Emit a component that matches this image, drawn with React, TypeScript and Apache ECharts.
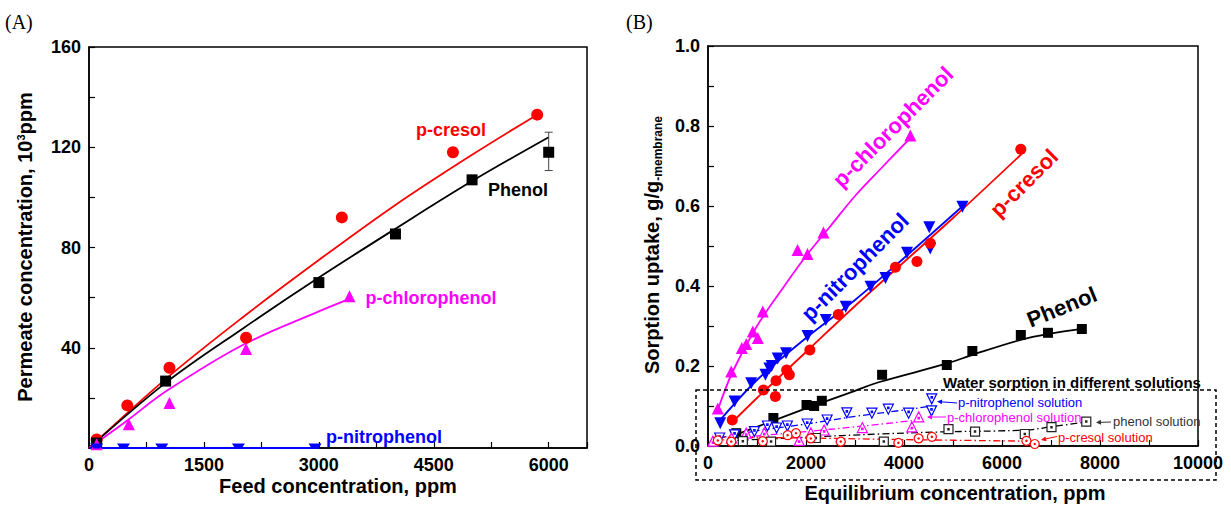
import React, { useEffect, useRef } from 'react';
import * as echarts from 'echarts';

const FONT = '"Liberation Sans", Arial, sans-serif';
const SERIF = '"Liberation Serif", "Times New Roman", serif';
const RED = '#ff0000';
const BLUE = '#0000ff';
const MAG = '#ff00ff';
const BLK = '#000000';

// ---------- Panel A: permeate vs feed concentration ----------
const aPhenol = [[100, 2], [1000, 26.7], [3000, 66], [4000, 85.4], [5000, 107], [6000, 118]];
const aCresol = [[100, 3.4], [500, 17], [1050, 32], [2050, 44], [3300, 92], [4750, 118], [5850, 133]];
const aChloro = [[100, 1.5], [520, 9.5], [1050, 18], [2050, 39.5], [3400, 60.5]];
const aNitro = [[100, 0], [450, 0], [950, 0], [1950, 0], [2950, 0]];
const aPhenolErr = [[6000, 110.7, 126]];

const aCresolFit = [[0, 0], [1000, 27.5], [2000, 52], [3000, 75], [4000, 97], [5000, 117], [5850, 133]];
const aPhenolFit = [[0, 0], [1000, 26], [2000, 47.5], [3000, 68], [4000, 87.5], [5000, 106.5], [6000, 124]];
const aChloroFit = [[0, 0], [500, 11], [1000, 22.5], [2000, 41], [3000, 54.5], [3400, 59.5]];
const aNitroFit = [[0, 0], [3000, 0]];

// ---------- Panel B: sorption uptake vs equilibrium concentration ----------
const bChloro = [[200, 0.094], [475, 0.186], [690, 0.245], [780, 0.255], [914, 0.286], [1016, 0.27], [1117, 0.336], [1828, 0.49], [2030, 0.48], [2356, 0.534], [4130, 0.776]];
const bNitro = [[250, 0.057], [542, 0.111], [881, 0.157], [1172, 0.178], [1253, 0.194], [1300, 0.2], [1422, 0.219], [1592, 0.232], [2031, 0.275], [2404, 0.315], [2810, 0.348], [3318, 0.398], [3622, 0.42], [4061, 0.483], [4516, 0.547], [4536, 0.494], [5192, 0.598]];
const bCresol = [[495, 0.065], [1131, 0.14], [1375, 0.124], [1388, 0.163], [1605, 0.19], [1660, 0.178], [2079, 0.24], [2660, 0.329], [3825, 0.447], [4264, 0.461], [4536, 0.507], [6384, 0.742]];
const bPhenol = [[577, 0.032], [1334, 0.07], [2011, 0.1025], [2166, 0.1], [2323, 0.113], [3553, 0.178], [4873, 0.2025], [5395, 0.2375], [6384, 0.2775], [6938, 0.283], [7629, 0.2925]];

const bChloroFit = [[200, 0.09], [500, 0.185], [1000, 0.3], [1500, 0.39], [2000, 0.475], [2500, 0.55], [3000, 0.625], [3500, 0.69], [4130, 0.77]];
const bNitroFit = [[250, 0.065], [1000, 0.165], [2000, 0.27], [3000, 0.365], [4000, 0.47], [5200, 0.6]];
const bCresolFit = [[500, 0.06], [1000, 0.12], [2000, 0.235], [3000, 0.35], [4000, 0.46], [5000, 0.57], [6400, 0.73]];
const bPhenolFit = [[500, 0.025], [1000, 0.048], [2000, 0.094], [3000, 0.138], [3500, 0.16], [4900, 0.207], [5400, 0.228], [6400, 0.266], [7000, 0.281], [7700, 0.294]];

// water sorption in different solutions
const bNitroSol = [[238, 0.02], [542, 0.028], [948, 0.036], [1212, 0.05], [1400, 0.045], [1620, 0.05], [2025, 0.055], [2431, 0.065], [2834, 0.083], [3345, 0.082], [3680, 0.092], [4094, 0.082], [4562, 0.088], [4566, 0.118]];
const bChloroSol = [[100, 0.012], [480, 0.02], [780, 0.032], [1150, 0.033], [1860, 0.014], [2100, 0.033], [2370, 0.04], [3150, 0.046], [4160, 0.048], [4300, 0.073]];
const bPhenolSol = [[711, 0.012], [1287, 0.011], [2200, 0.02], [3588, 0.011], [4908, 0.042], [5450, 0.036], [6465, 0.03], [7010, 0.047], [7720, 0.061]];
const bCresolSol = [[200, 0.014], [475, 0.011], [1117, 0.012], [1625, 0.027], [1795, 0.032], [2099, 0.019], [2709, 0.011], [3885, 0.008], [4299, 0.019], [4569, 0.023], [6498, 0.013], [6668, 0.005]];

const bNitroSolFit = [[238, 0.02], [1000, 0.038], [2000, 0.055], [3000, 0.074], [4000, 0.09], [4560, 0.1]];
const bChloroSolFit = [[100, 0.012], [1000, 0.025], [2000, 0.036], [3000, 0.048], [4300, 0.065]];
const bPhenolSolFit = [[600, 0.014], [2000, 0.022], [3500, 0.03], [4700, 0.035], [6500, 0.04], [7000, 0.048], [7720, 0.06]];
const bCresolSolFit = [[200, 0.022], [2000, 0.02], [4000, 0.016], [6650, 0.012]];

// tick settings
const aXTicks = { min: 0, max: 6500, interval: 1500 };
const aYTicks = { min: 0, max: 160, interval: 40 };
const bXTicks = { min: 0, max: 10000, interval: 2000 };
const bYTicks = { min: 0, max: 1.0, interval: 0.2 };

const HOLLOW_SQ = 'path://M0,0 L10,0 L10,10 L0,10 Z M4.3,4.3 L5.7,4.3 L5.7,5.7 L4.3,5.7 Z';
const HOLLOW_CI = 'path://M5,0 A5,5 0 1,1 4.99,0 Z M5,4.3 A0.7,0.7 0 1,1 4.99,4.3 Z';
const HOLLOW_UP = 'path://M5,0 L10,9 L0,9 Z M4.3,5 L5.7,5 L5.7,6.4 L4.3,6.4 Z';
const HOLLOW_DN = 'path://M0,0 L10,0 L5,9 Z M4.3,2.6 L5.7,2.6 L5.7,4 L4.3,4 Z';
const HALF_DN = 'path://M0,0 L12,0 L9,5 L3,5 Z';

function axisCommon(fmt: (v: number) => string) {
  return {
    type: 'value',
    axisLine: { show: true, onZero: false, lineStyle: { color: BLK, width: 1.5 } },
    axisTick: { show: true, inside: true, length: 6, lineStyle: { color: BLK, width: 1.2 } },
    minorTick: { show: true, splitNumber: 2, length: 6, lineStyle: { color: BLK, width: 1.2 } },
    splitLine: { show: false },
    axisLabel: { formatter: fmt, fontFamily: FONT, fontWeight: 'bold', fontSize: 18, color: BLK, margin: 8 },
  };
}

function fitLine(name: string, data: number[][], color: string, idx: number, dashed = false, width = 1.8) {
  return {
    name, type: 'line', xAxisIndex: idx, yAxisIndex: idx, data, smooth: 0.35,
    symbol: 'none', silent: true, z: 2,
    lineStyle: { color, width, type: dashed ? [7, 3, 1.5, 3] : 'solid' },
  };
}

function markers(name: string, data: number[][], symbol: string, size: number | number[], color: string, idx: number, hollow = false, offset?: number[]) {
  return {
    name, type: 'scatter', xAxisIndex: idx, yAxisIndex: idx, data, symbol, symbolSize: size, z: 4,
    symbolOffset: offset,
    itemStyle: hollow ? { color: '#ffffff', borderColor: color, borderWidth: 1.2, opacity: 1 } : { color, opacity: 1 },
  };
}

function arrow(x1: number, y1: number, x2: number, y2: number, color: string) {
  const ang = Math.atan2(y2 - y1, x2 - x1);
  const L = 5, W = 2.5;
  const bx = x2 - L * Math.cos(ang), by = y2 - L * Math.sin(ang);
  const px = -Math.sin(ang) * W, py = Math.cos(ang) * W;
  return [
    { type: 'line', z: 10, shape: { x1, y1, x2: bx, y2: by }, style: { stroke: color, lineWidth: 1 } },
    { type: 'polygon', z: 10, shape: { points: [[x2, y2], [bx + px, by + py], [bx - px, by - py]] }, style: { fill: color } },
  ];
}

function txt(text: string, x: number, y: number, color: string, size: number, opts: any = {}) {
  return {
    type: 'text', x, y, z: 10, rotation: opts.rotation || 0,
    style: {
      text, fill: color, fontSize: size, fontFamily: opts.family || FONT,
      fontWeight: opts.weight || 'bold', align: opts.align || 'center', verticalAlign: 'middle',
      rich: opts.rich,
    },
  };
}

export default function App() {
  const ref = useRef<HTMLDivElement>(null);
  useEffect(() => {
    if (!ref.current) return;
    const chart = echarts.init(ref.current, null, { renderer: 'svg' });
    const deg = Math.PI / 180;
    const option: any = {
      animation: false,
      backgroundColor: '#ffffff',
      grid: [
        { left: 89, top: 47, width: 498, height: 401, show: true, borderColor: BLK, borderWidth: 1.5, backgroundColor: 'transparent' },
        { left: 708, top: 46, width: 490, height: 400, show: true, borderColor: BLK, borderWidth: 1.5, backgroundColor: 'transparent' },
      ],
      xAxis: [
        { ...axisCommon((v: number) => (v % 1500 === 0 && v <= 6000 ? String(v) : '')), gridIndex: 0, ...aXTicks },
        { ...axisCommon((v: number) => String(v)), gridIndex: 1, ...bXTicks },
      ],
      yAxis: [
        { ...axisCommon((v: number) => (v === 0 ? '' : String(v))), gridIndex: 0, ...aYTicks },
        { ...axisCommon((v: number) => v.toFixed(1)), gridIndex: 1, ...bYTicks },
      ],
      series: [
        // Panel A
        fitLine('p-cresol fit', aCresolFit, RED, 0),
        fitLine('Phenol fit', aPhenolFit, BLK, 0),
        fitLine('p-chlorophenol fit', aChloroFit, MAG, 0),
        fitLine('p-nitrophenol fit', aNitroFit, BLUE, 0, false, 2),
        {
          name: 'Phenol error', type: 'custom', xAxisIndex: 0, yAxisIndex: 0, data: aPhenolErr, z: 3,
          renderItem: (_p: any, api: any) => {
            const lo = api.coord([api.value(0), api.value(1)]);
            const hi = api.coord([api.value(0), api.value(2)]);
            const st = { stroke: '#444', lineWidth: 1 };
            return {
              type: 'group', children: [
                { type: 'line', shape: { x1: lo[0], y1: lo[1], x2: hi[0], y2: hi[1] }, style: st },
                { type: 'line', shape: { x1: lo[0] - 4, y1: lo[1], x2: lo[0] + 4, y2: lo[1] }, style: st },
                { type: 'line', shape: { x1: hi[0] - 4, y1: hi[1], x2: hi[0] + 4, y2: hi[1] }, style: st },
              ],
            };
          },
        },
        markers('p-cresol', aCresol, 'circle', 12, RED, 0),
        markers('Phenol', aPhenol, 'rect', 11, BLK, 0),
        markers('p-chlorophenol', aChloro, 'triangle', 12, MAG, 0),
        markers('p-nitrophenol', aNitro, HALF_DN, [13, 5], BLUE, 0, false, [0, -2]),
        // Panel B
        fitLine('p-chlorophenol fit B', bChloroFit, MAG, 1),
        fitLine('p-nitrophenol fit B', bNitroFit, BLUE, 1),
        fitLine('p-cresol fit B', bCresolFit, RED, 1),
        fitLine('Phenol fit B', bPhenolFit, BLK, 1),
        fitLine('p-nitrophenol solution fit', bNitroSolFit, BLUE, 1, true, 1.3),
        fitLine('p-chlorophenol solution fit', bChloroSolFit, MAG, 1, true, 1.3),
        fitLine('phenol solution fit', bPhenolSolFit, BLK, 1, true, 1.3),
        fitLine('p-cresol solution fit', bCresolSolFit, RED, 1, true, 1.3),
        markers('p-chlorophenol B', bChloro, 'triangle', 12, MAG, 1),
        markers('p-nitrophenol B', bNitro, 'path://M0,0 L10,0 L5,9 Z', 12, BLUE, 1),
        markers('p-cresol B', bCresol, 'circle', 11, RED, 1),
        markers('Phenol B', bPhenol, 'rect', 10, BLK, 1),
        markers('p-nitrophenol solution', bNitroSol, HOLLOW_DN, 10, BLUE, 1, true),
        markers('p-chlorophenol solution', bChloroSol, HOLLOW_UP, 10, MAG, 1, true),
        markers('phenol solution', bPhenolSol, HOLLOW_SQ, 9, '#222222', 1, true),
        markers('p-cresol solution', bCresolSol, HOLLOW_CI, 9, RED, 1, true),
      ],
      graphic: [
        txt('(A)', 5, 22, BLK, 20, { family: SERIF, weight: 'normal', align: 'left' }),
        txt('(B)', 626, 22, BLK, 20, { family: SERIF, weight: 'normal', align: 'left' }),
        // Panel A titles
        txt('Feed concentration, ppm', 338, 486, BLK, 20),
        txt('{a|Permeate concentration, 10}{s|3}{a|ppm}', 25, 247, BLK, 20, {
          rotation: 90 * deg,
          rich: {
            a: { fontSize: 20, fontWeight: 'bold', fontFamily: FONT, fill: BLK, lineHeight: 20 },
            s: { fontSize: 11, fontWeight: 'bold', fontFamily: FONT, fill: BLK, lineHeight: 10, verticalAlign: 'top' },
          },
        }),
        // Panel A labels
        txt('p-cresol', 451, 130, RED, 18),
        txt('Phenol', 518, 190, BLK, 18),
        txt('p-chlorophenol', 431, 298, MAG, 18),
        txt('p-nitrophenol', 384, 437, BLUE, 18),
        // Panel B titles
        txt('Equilibrium concentration, ppm', 955, 493, BLK, 20),
        txt('{a|Sorption uptake, g/g}{b|-membrane}', 652, 245, BLK, 20, {
          rotation: 90 * deg,
          rich: {
            a: { fontSize: 20, fontWeight: 'bold', fontFamily: FONT, fill: BLK, lineHeight: 23 },
            b: { fontSize: 12, fontWeight: 'bold', fontFamily: FONT, fill: BLK, lineHeight: 12, verticalAlign: 'bottom' },
          },
        }),
        // Panel B rotated labels
        txt('p-chlorophenol', 893, 127, MAG, 22, { rotation: 45 * deg }),
        txt('p-nitrophenol', 855, 267, BLUE, 22, { rotation: 45 * deg }),
        txt('p-cresol', 1024, 183, RED, 22, { rotation: 45 * deg }),
        txt('Phenol', 1062, 307, BLK, 22, { rotation: 22 * deg }),
        // water sorption box
        {
          type: 'rect', z: 9, shape: { x: 696, y: 390, width: 520, height: 90 },
          style: { fill: 'none', stroke: BLK, lineWidth: 1.5, lineDash: [4, 3] },
        },
        txt('Water sorption in different solutions', 1072, 382, BLK, 15),
        txt('p-nitrophenol solution', 958, 402, BLUE, 13, { weight: 'normal', align: 'left' }),
        txt('p-chlorophenol solution', 947, 417, MAG, 13, { weight: 'normal', align: 'left' }),
        txt('phenol solution', 1113, 421, '#333333', 13, { weight: 'normal', align: 'left' }),
        txt('p-cresol solution', 1058, 437, RED, 13, { weight: 'normal', align: 'left' }),
        ...arrow(957, 403, 937, 401.5, BLUE),
        ...arrow(946, 417, 927, 417, MAG),
        ...arrow(1111, 422, 1096, 422.5, '#333333'),
        ...arrow(1057, 436.5, 1041, 440, RED),
      ],
    };
    chart.setOption(option);
    return () => chart.dispose();
  }, []);
  return <div ref={ref} style={{ position: 'absolute', left: 0, top: 0, width: 1231, height: 508, background: '#fff' }} />;
}
